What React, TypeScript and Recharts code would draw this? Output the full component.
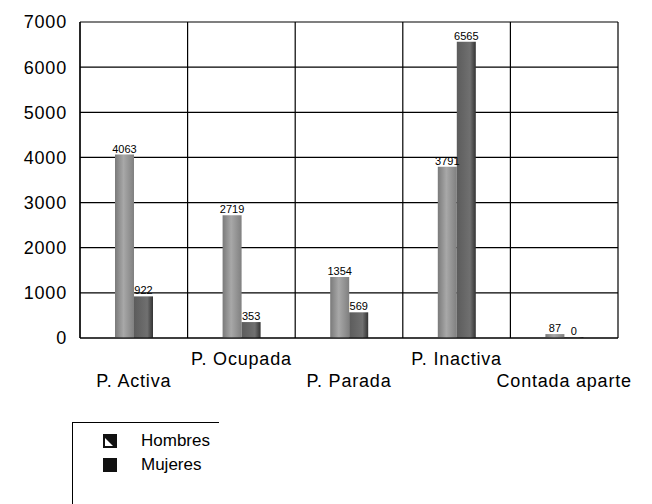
import React from 'react';
import { BarChart, Bar, XAxis, YAxis, CartesianGrid, LabelList } from 'recharts';

const categories = ['P. Activa', 'P. Ocupada', 'P. Parada', 'P. Inactiva', 'Contada aparte'];
const hombres = [4063, 2719, 1354, 3791, 87];
const mujeres = [922, 353, 569, 6565, 0];
const yTicks = [0, 1000, 2000, 3000, 4000, 5000, 6000, 7000];
const gridTicks = [0, 1, 2, 3, 4, 5];

const data = categories.map((name, i) => ({ name, pos: i + 0.5, hombres: hombres[i], mujeres: mujeres[i] }));

const FONT = '"Liberation Sans", Arial, sans-serif';

// staggered category labels, like the old Excel chart
const CategoryTick = (props: any) => {
  const { x, y, payload, index } = props;
  const upper = index % 2 === 1;
  return (
    <text x={x} y={y + (upper ? 19 : 41)} textAnchor="middle" fontSize={18} letterSpacing={0.8} fill="#000" fontFamily={FONT}>
      {payload.value}
    </text>
  );
};

const HombresIcon = () => (
  <svg width={14} height={14} style={{ display: 'block' }}>
    <rect x={0} y={0} width={14} height={14} fill="#111" />
    <polygon points="2,4 2,12 10,12" fill="#fff" />
  </svg>
);

const MujeresIcon = () => (
  <svg width={14} height={14} style={{ display: 'block' }}>
    <rect x={0} y={0} width={14} height={14} fill="#111" />
  </svg>
);

export default function App() {
  return (
    <div style={{ position: 'relative', width: 644, height: 496, overflow: 'hidden', fontFamily: FONT, background: '#fff' }}>
      <BarChart
        width={644}
        height={496}
        data={data}
        margin={{ top: 14, right: 34, bottom: 136, left: 0 }}
        barGap={0}
        barSize={19}
      >
        <defs>
          <linearGradient id="gH" x1="0" y1="0" x2="1" y2="0">
            <stop offset="0%" stopColor="#7a7a7a" />
            <stop offset="45%" stopColor="#a8a8a8" />
            <stop offset="100%" stopColor="#808080" />
          </linearGradient>
          <linearGradient id="gM" x1="0" y1="0" x2="1" y2="0">
            <stop offset="0%" stopColor="#5c5c5c" />
            <stop offset="70%" stopColor="#707070" />
            <stop offset="100%" stopColor="#333" />
          </linearGradient>
        </defs>
        <XAxis xAxisId="grid" type="number" dataKey="pos" domain={[0, 5]} ticks={gridTicks} hide />
        <CartesianGrid xAxisId="grid" stroke="#000" strokeWidth={1.2} />
        <XAxis
          dataKey="name"
          interval={0}
          tickLine={false}
          axisLine={{ stroke: '#000', strokeWidth: 1.2 }}
          tick={<CategoryTick />}
        />
        <YAxis
          width={72}
          domain={[0, 7000]}
          ticks={yTicks}
          tickLine={false}
          tickSize={0}
          tickMargin={13}
          axisLine={{ stroke: '#000', strokeWidth: 1.2 }}
          tick={{ fontSize: 18, fill: '#000', fontFamily: FONT, letterSpacing: 0.8 }}
        />
        <Bar dataKey="hombres" fill="url(#gH)" minPointSize={1} isAnimationActive={false}>
          <LabelList dataKey="hombres" position="top" offset={2} fontSize={11} fill="#000" fontFamily={FONT} />
        </Bar>
        <Bar dataKey="mujeres" fill="url(#gM)" minPointSize={1} isAnimationActive={false}>
          <LabelList dataKey="mujeres" position="top" offset={2} fontSize={11} fill="#000" fontFamily={FONT} />
        </Bar>
      </BarChart>
      <div
        style={{
          position: 'absolute',
          left: 64,
          top: 414,
          width: 146,
          height: 120,
          whiteSpace: 'nowrap',
          borderLeft: '1.5px solid #000',
          borderTop: '1.5px solid #000',
          fontSize: 17,
          color: '#000',
        }}
      >
        <div style={{ position: 'absolute', left: 30, top: 8, display: 'flex', alignItems: 'center' }}>
          <HombresIcon />
          <span style={{ marginLeft: 24 }}>Hombres</span>
        </div>
        <div style={{ position: 'absolute', left: 30, top: 32, display: 'flex', alignItems: 'center' }}>
          <MujeresIcon />
          <span style={{ marginLeft: 24 }}>Mujeres</span>
        </div>
      </div>
    </div>
  );
}
